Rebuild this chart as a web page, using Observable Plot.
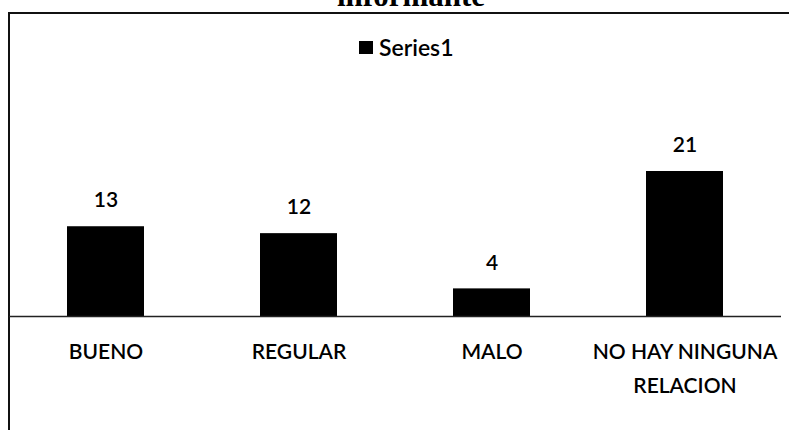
<!DOCTYPE html>
<html>
<head>
<meta charset="utf-8">
<script src="https://cdn.jsdelivr.net/npm/d3@7"></script>
<script src="https://cdn.jsdelivr.net/npm/@observablehq/plot@0.6"></script>
<style>
  html, body { margin: 0; padding: 0; background: #fff; }
  #wrap { position: relative; width: 789px; height: 430px; overflow: hidden; font-family: Lato, "Open Sans", sans-serif; }
  #frame { position: absolute; left: 8px; top: 12px; width: 800px; height: 500px; border-left: 2px solid #111; border-top: 2px solid #111; box-sizing: border-box; }
  #title { position: absolute; left: 337px; top: -20px; white-space: nowrap; font-family: "Liberation Serif", serif; font-weight: bold; font-size: 31px; line-height: 31px; color: #000; }
  #legend { position: absolute; left: 359px; top: 33px; font-size: 23px; line-height: 28px; display: flex; align-items: center; color: #000; font-weight: 600; }
  #legend span.sw { display: inline-block; width: 14px; height: 13px; background: #000; margin-right: 6px; }
  #chart { position: absolute; left: 0; top: 0; }
</style>
</head>
<body>
<div id="wrap">
  <div id="title">informante</div>
  <div id="frame"></div>
  <div id="legend"><span class="sw"></span>Series1</div>
  <div id="chart"></div>
</div>
<script>
const categories = ["BUENO", "REGULAR", "MALO", "NO HAY NINGUNA RELACION"];
const tickLabels = ["BUENO", "REGULAR", "MALO", "NO HAY NINGUNA\nRELACION"];
const values = [13, 12, 4, 21];
const seriesName = "Series1";

const data = categories.map((c, i) => ({category: c, value: values[i], series: seriesName}));
const labelOf = new Map(categories.map((c, i) => [c, tickLabels[i]]));

const chart = Plot.plot({
  width: 789,
  height: 430,
  marginLeft: 9,
  marginRight: 8,
  marginTop: 171,
  marginBottom: 114,
  style: {background: "transparent", fontFamily: "Lato, 'Open Sans', sans-serif", color: "#000"},
  x: {domain: categories, paddingInner: 0.6, paddingOuter: 0.3, label: null},
  y: {domain: [0, 21], nice: false, axis: null},
  marks: [
    Plot.barY(data, {x: "category", y: "value", fill: "#000"}),
    Plot.ruleY([0], {stroke: "#222", strokeWidth: 1.5}),
    Plot.text(data, {x: "category", y: "value", text: d => String(d.value), dy: -26, fontSize: 21, fontWeight: 600, fill: "#000"}),
    Plot.axisX({tickSize: 0, tickPadding: 19, fontSize: 21, fontWeight: 600, lineHeight: 1.6, tickFormat: d => labelOf.get(d), fill: "#000", label: null})
  ]
});
document.getElementById("chart").appendChild(chart);
</script>
</body>
</html>
